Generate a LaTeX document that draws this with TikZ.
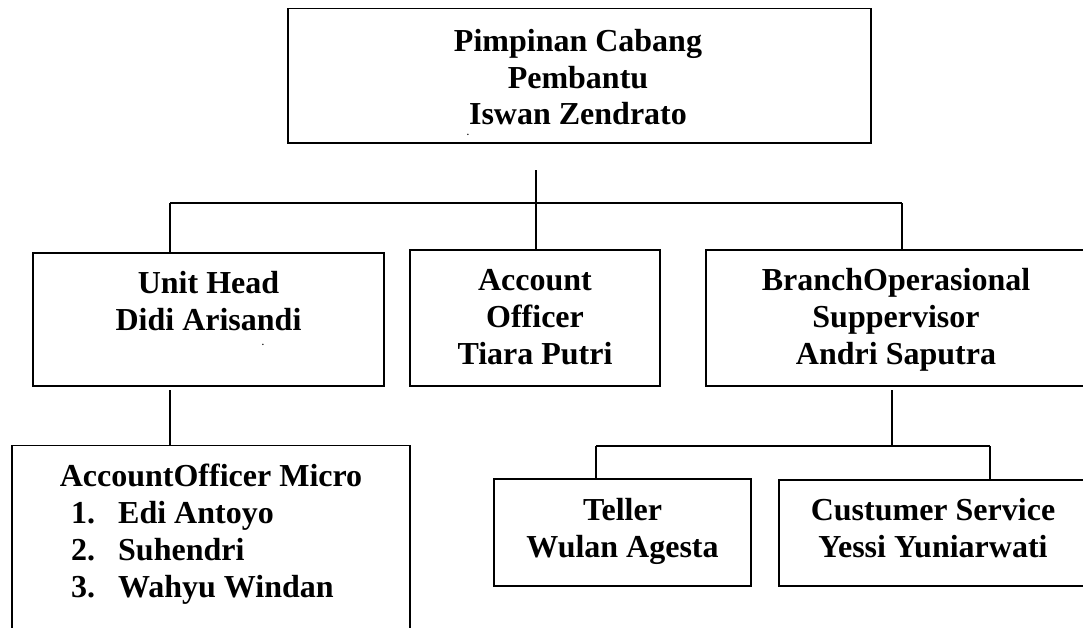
\documentclass[tikz,border=0pt]{standalone}
\usepackage{fontspec}
\setmainfont{Liberation Serif}
\tikzset{
  box/.style={draw, line width=1.6pt, inner sep=0pt, outer sep=0pt},
  lbl/.style={font=\fontsize{32}{37}\selectfont\bfseries, inner sep=0pt, anchor=base},
  lbll/.style={lbl, anchor=base west},
  conn/.style={line width=1.5pt},
  speck/.style={font=\fontsize{9}{10}\selectfont\bfseries, inner sep=0pt, anchor=base}
}
\begin{document}
\begin{tikzpicture}[x=1pt,y=-1pt]
\useasboundingbox (0,0) rectangle (1083,627);
\clip (0,0) rectangle (1083,627);
% boxes
\node[box, minimum width=583pt, minimum height=134.5pt] (top) at (579.5,75.75) {};
\node[box, minimum width=351pt, minimum height=133.3pt] (unit) at (208.5,319.35) {};
\node[box, minimum width=250pt, minimum height=136pt] (acc) at (535,318) {};
\node[box, minimum width=380pt, minimum height=136pt] (branch) at (896,318) {};
\node[box, minimum width=398pt, minimum height=204.5pt] (micro) at (211,547.75) {};
\node[box, minimum width=257pt, minimum height=107pt] (teller) at (622.5,532.5) {};
\node[box, minimum width=312pt, minimum height=106pt] (cust) at (935,533) {};
% texts
\node[lbl] (t1) at (578,51) {Pimpinan Cabang};
\node[lbl] (t2) at (578,88) {Pembantu};
\node[lbl] (t3) at (578,124) {Iswan Zendrato};
\node[speck] (d1) at (468,135) {.};
\node[lbl] (u1) at (208.5,293) {Unit Head};
\node[lbl] (u2) at (208.5,330) {Didi Arisandi};
\node[speck] (d2) at (263,345) {.};
\node[lbl] (a1) at (535,290) {Account};
\node[lbl] (a2) at (535,327) {Officer};
\node[lbl] (a3) at (535,364) {Tiara Putri};
\node[lbl] (b1) at (896,290) {BranchOperasional};
\node[lbl] (b2) at (896,327) {Suppervisor};
\node[lbl] (b3) at (896,364) {Andri Saputra};
\node[lbl] (m0) at (211,486) {AccountOfficer Micro};
\node[lbll] (n1) at (71,523) {1.};
\node[lbll] (n2) at (71,560) {2.};
\node[lbll] (n3) at (71,597) {3.};
\node[lbll] (m1) at (118,523) {Edi Antoyo};
\node[lbll] (m2) at (118,560) {Suhendri};
\node[lbll] (m3) at (118,597) {Wahyu Windan};
\node[lbl] (e1) at (622.5,520) {Teller};
\node[lbl] (e2) at (622.5,557) {Wulan Agesta};
\node[lbl] (c1) at (933,520) {Custumer Service};
\node[lbl] (c2) at (933,557) {Yessi Yuniarwati};
% connectors
\coordinate (topstub) at (536,170);
\coordinate (bar) at (536,203);
\coordinate (barl) at (170,203);
\coordinate (barr) at (902,203);
\draw[conn] (topstub) -- (bar);
\draw[conn] (barl) -- (barr);
\draw[conn] (barl) -- (barl |- unit.north);
\draw[conn] (bar) -- (bar |- acc.north);
\draw[conn] (barr) -- (barr |- branch.north);
\coordinate (unitstub) at (170,390);
\draw[conn] (unitstub) -- (unitstub |- micro.north);
\coordinate (brstub) at (892,390);
\coordinate (br) at (892,446);
\coordinate (brl) at (596,446);
\coordinate (brr) at (990,446);
\draw[conn] (brstub) -- (br);
\draw[conn] (brl) -- (brr);
\draw[conn] (brl) -- (brl |- teller.north);
\draw[conn] (brr) -- (brr |- cust.north);
\end{tikzpicture}
\end{document}
